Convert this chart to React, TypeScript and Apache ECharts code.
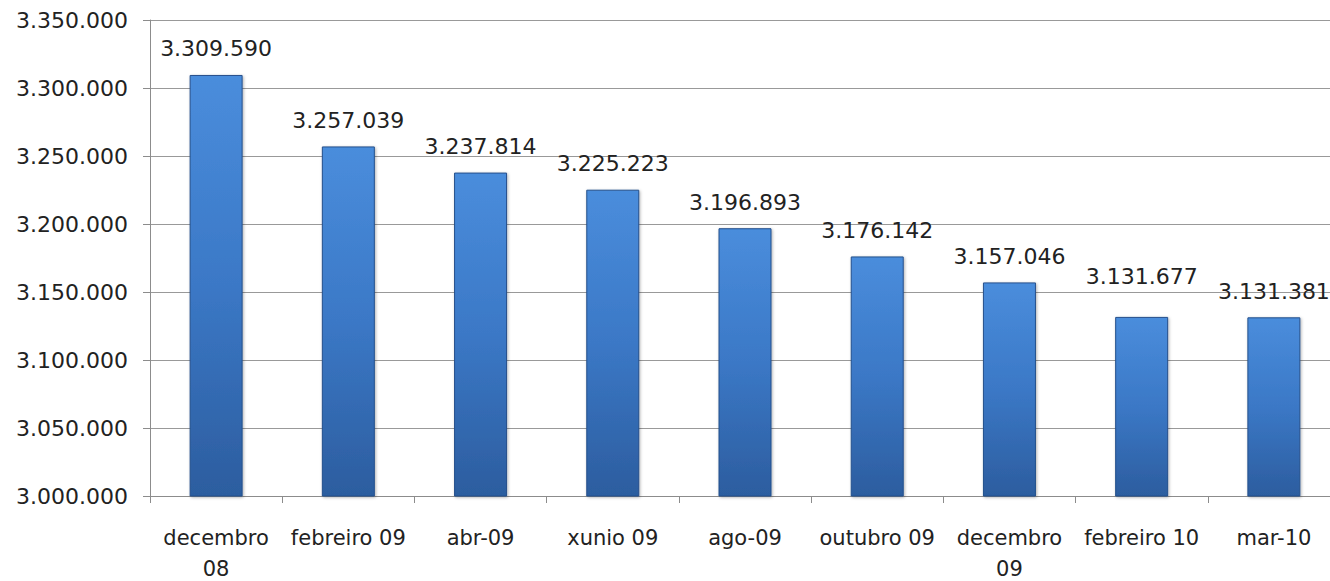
import React, { useEffect, useRef } from "react";
import * as echarts from "echarts";

const categories = [
  "decembro\n08",
  "febreiro 09",
  "abr-09",
  "xunio 09",
  "ago-09",
  "outubro 09",
  "decembro\n09",
  "febreiro 10",
  "mar-10",
];
const values = [3309590, 3257039, 3237814, 3225223, 3196893, 3176142, 3157046, 3131677, 3131381];

const fmt = (v: number) => String(Math.round(v)).replace(/\B(?=(\d{3})+(?!\d))/g, ".");

export default function App() {
  const ref = useRef<HTMLDivElement>(null);
  useEffect(() => {
    const chart = echarts.init(ref.current!, undefined, { renderer: "svg" });
    const font = "'DejaVu Sans', sans-serif";
    const barColor = new echarts.graphic.LinearGradient(0, 0, 0, 1, [
      { offset: 0, color: "#4a8ddc" },
      { offset: 0.5, color: "#3b78c6" },
      { offset: 1, color: "#2c5d9f" },
    ]);
    chart.setOption({
      animation: false,
      grid: { left: 150, top: 20, height: 476, width: 1190, outerBoundsMode: "none", containLabel: false },
      xAxis: {
        type: "category",
        data: categories,
        axisLine: { lineStyle: { color: "#8c8c8c" } },
        axisTick: { show: true, length: 7, lineStyle: { color: "#8c8c8c" } },
        axisLabel: { color: "#222", fontSize: 21, fontFamily: font, margin: 26, lineHeight: 31, interval: 0 },
      },
      yAxis: {
        type: "value",
        min: 3000000,
        max: 3350000,
        interval: 50000,
        axisLine: { show: true, lineStyle: { color: "#8c8c8c" } },
        axisTick: { show: true, length: 7, lineStyle: { color: "#8c8c8c" } },
        splitLine: { lineStyle: { color: "#999999", width: 1 } },
        axisLabel: { color: "#222", fontSize: 22, fontFamily: font, margin: 22, formatter: (v: number) => fmt(v) },
      },
      series: [
        {
          type: "bar",
          data: values.map((v, i) =>
            i === 7 ? { value: v, label: { offset: [0, -14] } } : v
          ),
          barWidth: 53,
          itemStyle: {
            color: barColor,
            borderColor: "#25508c",
            borderWidth: 1,
            shadowColor: "rgba(0,0,0,0.3)",
            shadowBlur: 3,
            shadowOffsetX: 1,
            shadowOffsetY: 1,
          },
          label: {
            show: true,
            position: "top",
            distance: 15,
            color: "#222",
            fontSize: 22,
            fontFamily: font,
            formatter: (p: any) => fmt(p.value),
          },
        },
      ],
    });
    return () => chart.dispose();
  }, []);
  return (
    <div
      ref={ref}
      style={{ position: "absolute", left: 0, top: 0, width: 1330, height: 581, background: "#fff" }}
    />
  );
}
